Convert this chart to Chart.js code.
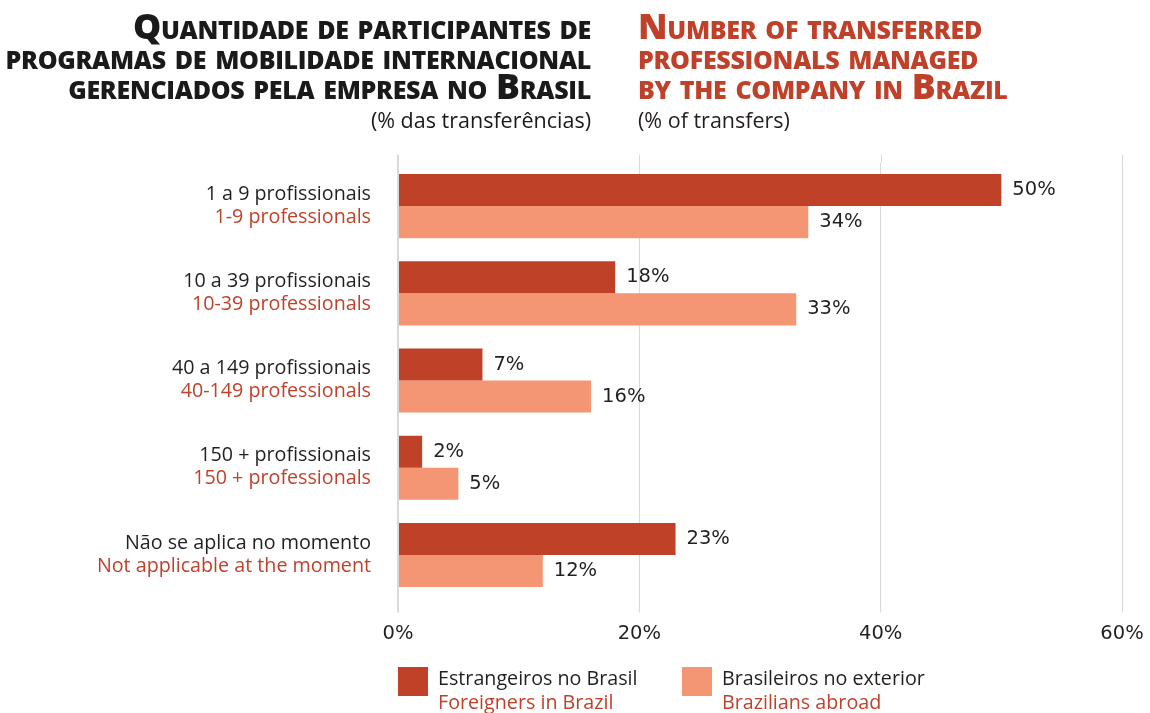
<!DOCTYPE html>
<html lang="pt">
  <head>
    <meta charset="UTF-8" />
    <script src="https://cdn.jsdelivr.net/npm/chart.js@4.4.0/dist/chart.umd.min.js"></script>
    <title>Participantes de programas de mobilidade internacional</title>
    <style>
      body { margin: 0; background: #fff; font-family: "Open Sans", sans-serif; color: #231f20; }
      #wrap { position: relative; width: 1150px; height: 713px; overflow: hidden; }
      #myChart { position: absolute; left: 0; top: 0; }
      .title { position: absolute; top: 10px; font-weight: 800; font-variant: small-caps; font-size: 35.5px; line-height: 30px; letter-spacing: -0.3px; }
      .sub { position: absolute; top: 105px; font-size: 21.5px; }
      .pt { right: 559px; text-align: right; color: #1a1a1a; }
      .en { left: 638px; text-align: left; color: #bf412a; }
      .legend { position: absolute; top: 666px; font-size: 19.7px; line-height: 24px; }
      .legend .box { position: absolute; left: 0; top: 1px; width: 30px; height: 29px; }
      .legend .txt { margin-left: 40px; }
      .legend .red { color: #bf412a; }
    </style>
  </head>
  <body>
    <div id="wrap">
      <canvas id="myChart" width="1150" height="713"></canvas>
      <div class="title pt">Quantidade de participantes de<br />programas de mobilidade internacional<br />gerenciados pela empresa no Brasil</div>
      <div class="sub pt">(% das transferências)</div>
      <div class="title en">Number of transferred<br />professionals managed<br />by the company in Brazil</div>
      <div class="sub en" style="color: #231f20">(% of transfers)</div>
      <div class="legend" style="left: 398px">
        <div class="box" style="background: #bf4128"></div>
        <div class="txt">Estrangeiros no Brasil<br /><span class="red">Foreigners in Brazil</span></div>
      </div>
      <div class="legend" style="left: 682px">
        <div class="box" style="background: #f49673"></div>
        <div class="txt">Brasileiros no exterior<br /><span class="red">Brazilians abroad</span></div>
      </div>
    </div>

    <script>
      const labelsPt = [
        "1 a 9 profissionais",
        "10 a 39 profissionais",
        "40 a 149 profissionais",
        "150 + profissionais",
        "Não se aplica no momento",
      ];
      const labelsEn = [
        "1-9 professionals",
        "10-39 professionals",
        "40-149 professionals",
        "150 + professionals",
        "Not applicable at the moment",
      ];
      const foreigners = [50, 18, 7, 2, 23];
      const brazilians = [34, 33, 16, 5, 12];
      const xTicks = [0, 20, 40, 60];

      const dark = "#bf4128";
      const light = "#f49673";
      const red = "#bf412a";
      const textColor = "#231f20";
      const font = '"Open Sans", sans-serif';
      const numFont = '"DejaVu Sans", sans-serif';

      // value labels to the right of each bar
      const valueLabels = {
        id: "valueLabels",
        afterDatasetsDraw(chart) {
          const ctx = chart.ctx;
          ctx.save();
          ctx.font = "19.5px " + numFont;
          ctx.fillStyle = textColor;
          ctx.textAlign = "left";
          ctx.textBaseline = "middle";
          chart.data.datasets.forEach((ds, i) => {
            chart.getDatasetMeta(i).data.forEach((bar, j) => {
              ctx.fillText(ds.data[j] + "%", bar.x + 11, bar.y);
            });
          });
          ctx.restore();
        },
      };

      // two-colour category labels and gridline stubs above the plot
      const categoryLabels = {
        id: "categoryLabels",
        beforeDatasetsDraw(chart) {
          const ctx = chart.ctx;
          const x = chart.scales.x;
          const top = chart.chartArea.top;
          ctx.save();
          ctx.strokeStyle = "#d9d9d9";
          xTicks.forEach((t, i) => {
            ctx.lineWidth = i === 0 ? 2 : 1;
            const px = Math.round(x.getPixelForValue(t)) + (i === 0 ? 0 : 0.5);
            ctx.beginPath();
            ctx.moveTo(px, top - 8);
            ctx.lineTo(px, top);
            ctx.stroke();
          });
          ctx.restore();
        },
        afterDraw(chart) {
          const ctx = chart.ctx;
          const y = chart.scales.y;
          ctx.save();
          ctx.font = "19.7px " + font;
          ctx.textAlign = "right";
          ctx.textBaseline = "middle";
          labelsPt.forEach((lab, i) => {
            const py = y.getPixelForValue(i);
            ctx.fillStyle = textColor;
            ctx.fillText(lab, 371, py - 12);
            ctx.fillStyle = red;
            ctx.fillText(labelsEn[i], 371, py + 11);
          });
          ctx.restore();
        },
      };

      new Chart(document.getElementById("myChart"), {
        type: "bar",
        data: {
          labels: labelsPt,
          datasets: [
            { label: "Estrangeiros no Brasil", data: foreigners, backgroundColor: dark },
            { label: "Brasileiros no exterior", data: brazilians, backgroundColor: light },
          ],
        },
        options: {
          indexAxis: "y",
          responsive: false,
          animation: false,
          categoryPercentage: 0.735,
          barPercentage: 1,
          layout: { padding: { left: 398, right: 28, top: 162.5, bottom: 57 } },
          plugins: { legend: { display: false }, tooltip: { enabled: false } },
          scales: {
            x: {
              min: 0,
              max: 60,
              afterBuildTicks: (s) => { s.ticks = xTicks.map((v) => ({ value: v })); },
              afterFit: (s) => { s.paddingLeft = 0; s.paddingRight = 0; },
              border: { display: false },
              grid: {
                color: "#d9d9d9",
                lineWidth: (c) => (c.index === 0 ? 2 : 1),
                tickLength: 14,
              },
              ticks: {
                padding: 10,
                color: textColor,
                font: { family: numFont, size: 19.5 },
                callback: (v) => v + "%",
              },
            },
            y: {
              display: false,
            },
          },
        },
        plugins: [valueLabels, categoryLabels],
      });
    </script>
  </body>
</html>
